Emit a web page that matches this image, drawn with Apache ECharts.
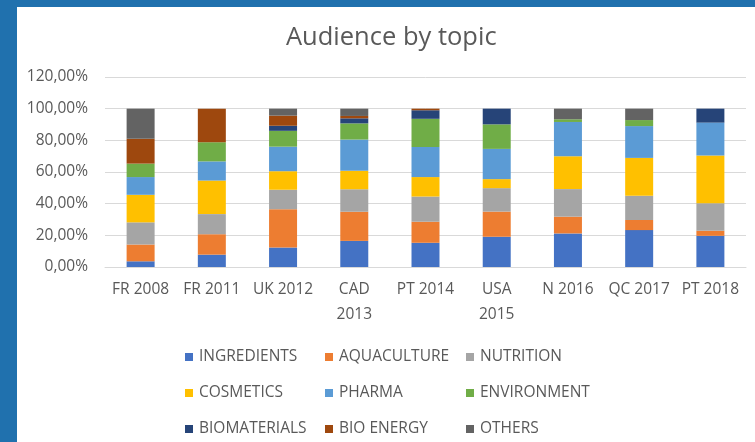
<!DOCTYPE html>
<html>
<head>
<meta charset="utf-8">
<script src="https://cdn.jsdelivr.net/npm/echarts@6/dist/echarts.min.js"></script>
<style>
  html, body { margin: 0; padding: 0; background: #fff; }
  #main { width: 755px; height: 442px; }
</style>
</head>
<body>
<div id="main"></div>
<script>
var categories = ['FR 2008', 'FR 2011', 'UK 2012', 'CAD\n2013', 'PT 2014', 'USA\n2015', 'N 2016', 'QC 2017', 'PT 2018'];
var yTicks = [0, 20, 40, 60, 80, 100, 120];

// share of audience in %, per topic
var ingredients  = [3.6, 7.8, 12.3, 16.5, 15.3, 19.1, 21.2, 23.3, 19.7];
var aquaculture  = [10.6, 12.9, 24.2, 18.4, 13.3, 15.9, 10.6, 6.4, 3.2];
var nutrition    = [14.0, 12.7, 12.3, 14.2, 15.9, 14.8, 17.4, 15.3, 17.4];
var cosmetics    = [17.4, 21.2, 11.7, 11.7, 12.3, 5.7, 20.8, 23.9, 30.1];
var pharma       = [11.2, 12.1, 15.5, 19.7, 19.0, 19.1, 21.6, 20.1, 20.8];
var environment  = [8.5, 12.1, 10.0, 10.2, 17.8, 15.5, 1.7, 3.8, 0];
var biomaterials = [0, 0, 3.2, 3.2, 5.4, 9.9, 0, 0, 8.8];
var bioEnergy    = [15.7, 21.2, 6.4, 1.5, 1.0, 0, 0, 0, 0];
var others       = [19.0, 0, 4.4, 4.6, 0, 0, 6.7, 7.2, 0];

var topics = [
    {name: 'INGREDIENTS', data: ingredients, color: '#4472C4'},
    {name: 'AQUACULTURE', data: aquaculture, color: '#ED7D31'},
    {name: 'NUTRITION', data: nutrition, color: '#A5A5A5'},
    {name: 'COSMETICS', data: cosmetics, color: '#FFC000'},
    {name: 'PHARMA', data: pharma, color: '#5B9BD5'},
    {name: 'ENVIRONMENT', data: environment, color: '#70AD47'},
    {name: 'BIOMATERIALS', data: biomaterials, color: '#264478'},
    {name: 'BIO ENERGY', data: bioEnergy, color: '#9E480E'},
    {name: 'OTHERS', data: others, color: '#636363'}
];

var txt = '#595959';
var font = '"Open Sans", sans-serif';

// legend grid: 3 columns x 3 rows
var legendLeft = [185, 325, 466];
var legendTop = [349, 385, 421];

var series = topics.map(function (t) {
    return {
        name: t.name,
        type: 'bar',
        stack: 'all',
        barWidth: 28,
        data: t.data,
        itemStyle: {color: t.color},
        emphasis: {disabled: true}
    };
});

var legends = topics.map(function (t, i) {
    return {
        left: legendLeft[i % 3],
        top: legendTop[Math.floor(i / 3)],
        padding: 0,
        itemWidth: 8,
        itemHeight: 8,
        icon: 'rect',
        selectedMode: false,
        data: [t.name],
        textStyle: {color: txt, fontSize: 15.5, fontFamily: font, lineHeight: 16, padding: [0, 0, 0, 1]}
    };
});

var myChart = echarts.init(document.getElementById('main'));
myChart.setOption({
    animation: false,
    backgroundColor: '#fff',
    title: {
        text: 'Audience by topic',
        left: 281,
        top: 20,
        textStyle: {color: txt, fontSize: 25.5, fontWeight: 'normal', fontFamily: font}
    },
    legend: legends,
    grid: {left: 105, right: 9, top: 77, bottom: 175, containLabel: false},
    xAxis: {
        type: 'category',
        data: categories,
        axisTick: {show: false},
        axisLine: {lineStyle: {color: '#d9d9d9'}},
        axisLabel: {color: txt, fontSize: 15.5, fontFamily: font, margin: 10, lineHeight: 25, interval: 0}
    },
    yAxis: {
        type: 'value',
        min: yTicks[0],
        max: yTicks[yTicks.length - 1],
        interval: 20,
        axisLine: {show: false},
        axisTick: {show: false},
        splitLine: {lineStyle: {color: '#d9d9d9'}},
        axisLabel: {
            color: txt, fontSize: 15.5, fontFamily: font, margin: 17,
            formatter: function (v) { return v.toFixed(2).replace('.', ',') + '%'; }
        }
    },
    graphic: [
        {type: 'rect', left: 0, top: 0, shape: {width: 17, height: 442}, style: {fill: '#2071AE'}},
        {type: 'rect', left: 0, top: 0, shape: {width: 755, height: 7}, style: {fill: '#2071AE'}}
    ],
    series: series
});
</script>
</body>
</html>
